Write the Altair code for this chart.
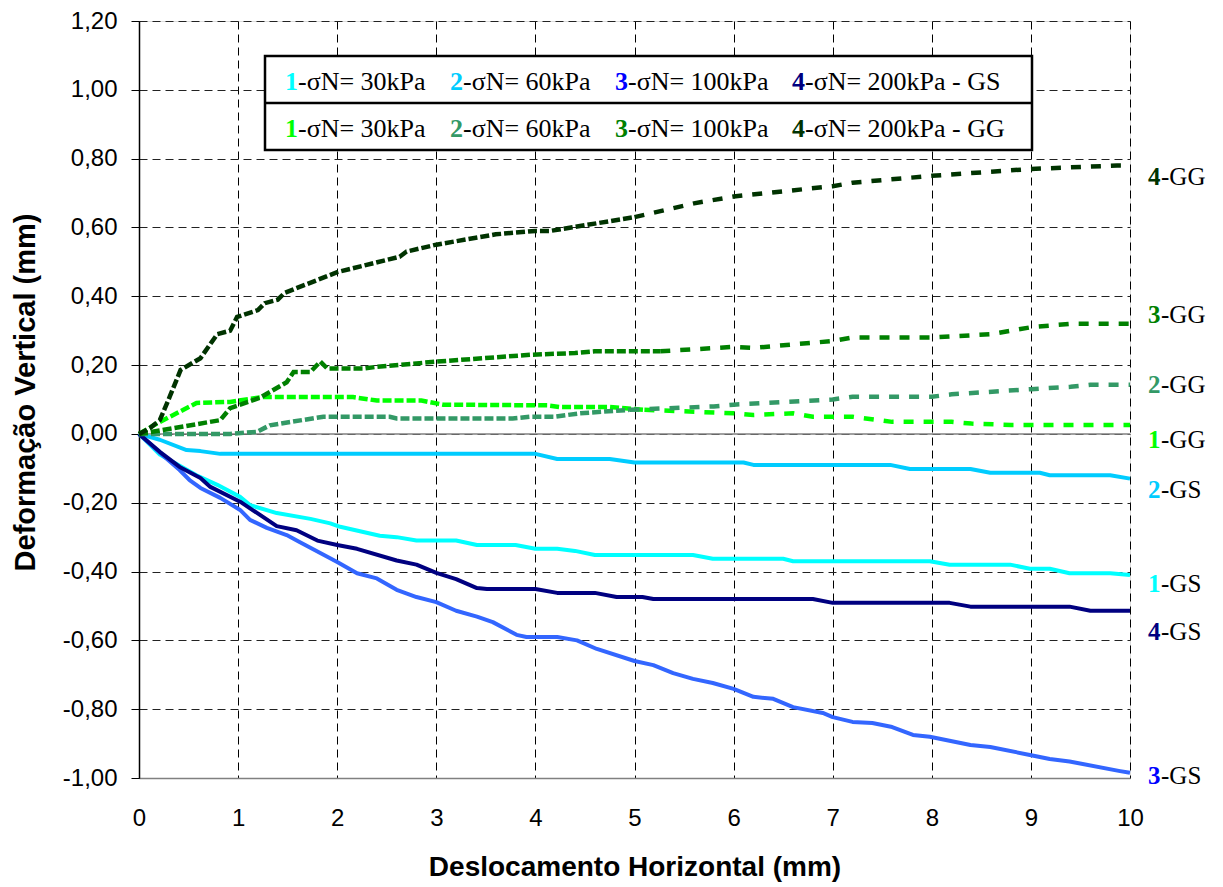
import altair as alt
import pandas as pd

# ---------------- data ----------------
x_gs1 = [0, 0.21, 0.58, 0.79, 1.02, 1.12, 1.39, 1.73, 1.93, 2.03, 2.43, 2.6, 2.8, 3.2, 3.41, 3.8, 4.0, 4.22, 4.4, 4.6,
         5.59, 5.79, 6.5, 6.6, 7.98, 8.18, 8.79, 8.99, 9.19, 9.39, 9.8, 10]
y_gs1 = [0, -0.06, -0.12, -0.148, -0.183, -0.207, -0.23, -0.247, -0.26, -0.27, -0.296, -0.3, -0.31, -0.31, -0.323,
         -0.323, -0.334, -0.334, -0.34, -0.352, -0.352, -0.363, -0.363, -0.37, -0.37, -0.38, -0.38, -0.392, -0.392,
         -0.405, -0.405, -0.41]

x_gs2 = [0, 0.21, 0.48, 0.62, 0.82, 4.0, 4.22, 4.75, 5.0, 6.1, 6.2, 7.58, 7.78, 8.39, 8.59, 9.09, 9.19, 9.8, 10]
y_gs2 = [0, -0.017, -0.047, -0.05, -0.058, -0.058, -0.073, -0.073, -0.083, -0.083, -0.09, -0.09, -0.102, -0.102,
         -0.113, -0.113, -0.12, -0.12, -0.13]

x_gs3 = [0, 0.21, 0.41, 0.51, 0.62, 0.82, 1.02, 1.12, 1.29, 1.49, 1.62, 2.0, 2.2, 2.4, 2.6, 2.8, 3.0, 3.2, 3.41, 3.57,
         3.81, 3.91, 4.22, 4.42, 4.62, 5.0, 5.19, 5.39, 5.59, 5.79, 6.0, 6.2, 6.4, 6.6, 6.9, 7.0, 7.2, 7.4, 7.6, 7.81,
         7.98, 8.39, 8.59, 8.99, 9.19, 9.39, 9.9, 10]
y_gs3 = [0, -0.055, -0.105, -0.134, -0.157, -0.186, -0.221, -0.25, -0.273, -0.294, -0.314, -0.372, -0.405, -0.42,
         -0.453, -0.474, -0.489, -0.514, -0.531, -0.547, -0.584, -0.59, -0.59, -0.6, -0.625, -0.66, -0.672, -0.695,
         -0.712, -0.724, -0.741, -0.764, -0.77, -0.794, -0.811, -0.823, -0.837, -0.84, -0.852, -0.875, -0.88, -0.904,
         -0.91, -0.933, -0.945, -0.952, -0.98, -0.985]

x_gs4 = [0, 0.21, 0.41, 0.62, 0.72, 1.02, 1.39, 1.59, 1.8, 2.0, 2.2, 2.6, 2.8, 3.0, 3.2, 3.41, 3.51, 4.0, 4.22, 4.6,
         4.82, 5.08, 5.19, 6.8, 7.0, 8.18, 8.39, 9.39, 9.6, 10]
y_gs4 = [0, -0.052, -0.096, -0.128, -0.154, -0.197, -0.268, -0.28, -0.31, -0.323, -0.334, -0.368, -0.38, -0.404,
         -0.422, -0.448, -0.451, -0.451, -0.462, -0.462, -0.474, -0.474, -0.48, -0.48, -0.491, -0.491, -0.502, -0.502,
         -0.514, -0.514]

x_gg1 = [0, 0.18, 0.58, 0.92, 1.25, 2.16, 2.4, 2.85, 3.07, 4.12, 4.25, 4.75, 5.1, 6.0, 6.2, 6.6, 6.8, 7.2, 7.6, 8.2,
         8.4, 8.8, 10]
y_gg1 = [0, 0.03, 0.09, 0.093, 0.107, 0.107, 0.097, 0.097, 0.085, 0.083, 0.078, 0.078, 0.07, 0.06, 0.055, 0.06, 0.05,
         0.05, 0.035, 0.035, 0.03, 0.026, 0.026]

x_gg2 = [0, 0.92, 1.19, 1.32, 1.86, 2.53, 2.6, 3.77, 3.95, 4.2, 4.45, 4.95, 5.8, 6.0, 7.0, 7.2, 8.0, 8.2, 9.0, 9.4,
         9.6, 10]
y_gg2 = [0, 0.0, 0.006, 0.025, 0.05, 0.05, 0.045, 0.045, 0.05, 0.05, 0.06, 0.07, 0.08, 0.085, 0.1, 0.108, 0.108,
         0.115, 0.13, 0.137, 0.143, 0.143]

x_gg3 = [0, 0.21, 0.82, 0.92, 1.22, 1.49, 1.56, 1.73, 1.83, 1.9, 2.26, 2.4, 3.0, 3.95, 4.4, 4.6, 5.26, 6.0, 6.2, 7.0,
         7.2, 8.0, 8.6, 9.0, 9.4, 10]
y_gg3 = [0, 0.01, 0.04, 0.075, 0.105, 0.15, 0.18, 0.18, 0.21, 0.19, 0.19, 0.195, 0.21, 0.23, 0.235, 0.24, 0.24,
         0.253, 0.25, 0.27, 0.28, 0.28, 0.29, 0.31, 0.32, 0.32]

x_gg4 = [0, 0.11, 0.21, 0.31, 0.42, 0.62, 0.79, 0.92, 0.99, 1.2, 1.27, 1.4, 1.47, 2.0, 2.63, 2.7, 3.0, 3.6, 4.0,
         4.15, 5.0, 5.6, 6.0, 7.0, 7.2, 8.0, 9.0, 9.87, 10]
y_gg4 = [0, 0.017, 0.04, 0.108, 0.186, 0.22, 0.29, 0.30, 0.34, 0.36, 0.38, 0.39, 0.41, 0.47, 0.515, 0.53, 0.55, 0.58,
         0.59, 0.59, 0.63, 0.67, 0.69, 0.72, 0.73, 0.75, 0.77, 0.78, 0.78]

x_ticks = [0, 1, 2, 3, 4, 5, 6, 7, 8, 9, 10]
y_ticks = [-1.0, -0.8, -0.6, -0.4, -0.2, 0.0, 0.2, 0.4, 0.6, 0.8, 1.0, 1.2]

# end-of-line labels
label_num = ["4", "3", "2", "1", "2", "1", "4", "3"]
label_suffix = ["-GG", "-GG", "-GG", "-GG", "-GS", "-GS", "-GS", "-GS"]
label_y = [0.747, 0.346, 0.142, -0.017, -0.163, -0.436, -0.576, -0.994]

# legend texts
legend_nums = ["1", "2", "3", "4"]
legend_gs = ["-σN= 30kPa", "-σN= 60kPa", "-σN= 100kPa", "-σN= 200kPa - GS"]
legend_gg = ["-σN= 30kPa", "-σN= 60kPa", "-σN= 100kPa", "-σN= 200kPa - GG"]

# ---------------- styles ----------------
C = {"GS1": "#00FFFF", "GS2": "#00CCFF", "GS3": "#3366FF", "GS4": "#000080",
     "GG1": "#00FF00", "GG2": "#339966", "GG3": "#008000", "GG4": "#003300"}
GS_TXT = ["#00FFFF", "#00CCFF", "#0000FF", "#000080"]
GG_TXT = ["#00FF00", "#339966", "#008000", "#003300"]
label_colors = ["#003300", "#008000", "#339966", "#00FF00", "#00CCFF", "#00FFFF", "#000080", "#0000FF"]

SANS = "Liberation Sans"
SERIF = "Liberation Serif"

X = alt.X("x:Q", scale=alt.Scale(domain=[0, 10], nice=False, zero=False),
          axis=alt.Axis(values=x_ticks, format="d", ticks=False, labelPadding=28, labelFlush=False,
                        labelFont=SANS, labelFontSize=24, labelColor="black",
                        domainColor="#808080", domainWidth=1.5,
                        grid=True, gridColor="black", gridDash=[8, 5], gridWidth=1,
                        title="Deslocamento Horizontal (mm)", titleFont=SANS, titleFontSize=28,
                        titleFontWeight="bold", titleColor="black", titleY=75))
Y = alt.Y("y:Q", scale=alt.Scale(domain=[-1.0, 1.2], nice=False, zero=False),
          axis=alt.Axis(values=y_ticks, labelFlush=False,
                        labelExpr="(datum.value < -0.001 ? '-' : '') + replace(format(abs(datum.value), '.2f'), '.', ',')",
                        tickSize=8, tickColor="black", labelPadding=14,
                        labelFont=SANS, labelFontSize=24, labelColor="black",
                        domainColor="black", domainWidth=1.5,
                        grid=True, gridColor="#222222", gridDash=[8, 5], gridWidth=1,
                        title="Deformação Vertical (mm)", titleFont=SANS, titleFontSize=29,
                        titleFontWeight="bold", titleColor="black", titleX=-99, titleY=371))

layers = []

# zero line
layers.append(alt.Chart(pd.DataFrame({"y": [0.0]})).mark_rule(color="#808080", strokeWidth=1.5).encode(y=Y))

def df_of(xs, ys):
    return pd.DataFrame({"x": xs, "y": ys})

# GS solid lines
for key, xs, ys in [("GS1", x_gs1, y_gs1), ("GS2", x_gs2, y_gs2), ("GS3", x_gs3, y_gs3), ("GS4", x_gs4, y_gs4)]:
    layers.append(alt.Chart(df_of(xs, ys)).mark_line(color=C[key], strokeWidth=4, strokeJoin="round")
                  .encode(x=X, y=Y))

# GG dashed lines (dense dashes in first half, sparse afterwards, as in the original)
SPLIT = 5.3
for key, xs, ys in [("GG1", x_gg1, y_gg1), ("GG2", x_gg2, y_gg2), ("GG3", x_gg3, y_gg3), ("GG4", x_gg4, y_gg4)]:
    k = max(i for i, v in enumerate(xs) if v <= SPLIT)
    layers.append(alt.Chart(df_of(xs[:k + 1], ys[:k + 1])).mark_line(
        color=C[key], strokeWidth=4.5, strokeDash=[9, 3], strokeCap="butt").encode(x=X, y=Y))
    layers.append(alt.Chart(df_of(xs[k:], ys[k:])).mark_line(
        color=C[key], strokeWidth=4.5, strokeDash=[10, 10], strokeCap="butt").encode(x=X, y=Y))

# end labels
lab_df = pd.DataFrame({"x": [10] * len(label_y), "y": label_y, "num": label_num,
                       "suf": label_suffix, "col": label_colors})
layers.append(alt.Chart(lab_df).mark_text(align="left", baseline="middle", dx=18, font=SERIF, fontSize=25,
                                          fontWeight="bold")
              .encode(x=X, y=Y, text="num:N", color=alt.Color("col:N", scale=None)))
layers.append(alt.Chart(lab_df).mark_text(align="left", baseline="middle", dx=31, font=SERIF, fontSize=25,
                                          color="black")
              .encode(x=X, y=Y, text="suf:N"))

# legend box
one = pd.DataFrame({"a": [0]})
LX0, LX1, LY0, LY1, LYM = 126, 893, 35, 129, 82
layers.append(alt.Chart(one).mark_rect(fill="white", stroke="black", strokeWidth=2.5)
              .encode(x=alt.value(LX0), x2=alt.value(LX1), y=alt.value(LY0), y2=alt.value(LY1)))
layers.append(alt.Chart(one).mark_rule(color="black", strokeWidth=2.5)
              .encode(x=alt.value(LX0), x2=alt.value(LX1), y=alt.value(LYM)))
num_x = [146, 311, 476, 653]
for row_y, texts, cols in [(61, legend_gs, GS_TXT), (108, legend_gg, GG_TXT)]:
    for i in range(4):
        layers.append(alt.Chart(one).mark_text(align="left", baseline="middle", font=SERIF, fontSize=26,
                                               fontWeight="bold", color=cols[i], text=legend_nums[i])
                      .encode(x=alt.value(num_x[i]), y=alt.value(row_y)))
        layers.append(alt.Chart(one).mark_text(align="left", baseline="middle", font=SERIF, fontSize=26,
                                               color="black", text=texts[i])
                      .encode(x=alt.value(num_x[i] + 13), y=alt.value(row_y)))

chart = alt.layer(*layers).properties(
    width=991, height=757,
    autosize=alt.AutoSizeParams(type="none"),
    padding={"left": 131, "top": 13, "right": 78, "bottom": 107},
).configure_view(strokeWidth=0).configure(background="white")

chart.save("out.html", embed_options={"renderer": "svg", "actions": False})
